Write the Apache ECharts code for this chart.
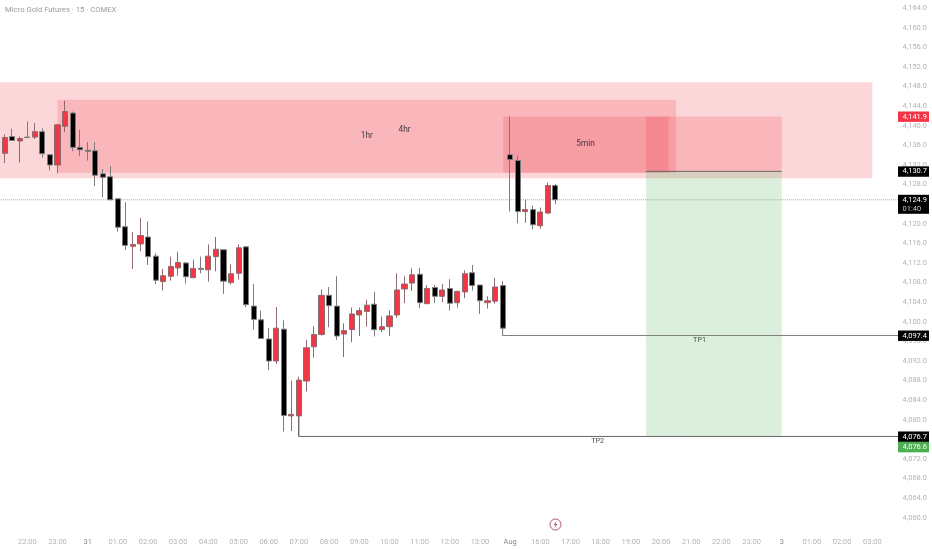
<!DOCTYPE html>
<html>
<head>
<meta charset="utf-8">
<style>html,body{margin:0;padding:0;background:#fff;overflow:hidden;width:932px;height:550px}#c{position:absolute;left:-3px;top:0;width:935px;height:550px}</style>
<script src="https://cdn.jsdelivr.net/npm/echarts@6/dist/echarts.min.js"></script>
</head>
<body>
<div id="c"></div>
<script>
const titleText = 'Micro Gold Futures · 15 · COMEX';
const timeLabels = ['22:00','23:00','31','01:00','02:00','03:00','04:00','05:00','06:00','07:00','08:00','09:00','10:00','11:00','12:00','13:00','Aug','16:00','17:00','18:00','19:00','20:00','21:00','22:00','23:00','3','01:00','02:00','03:00'];
const firstSlot = -3;
const opens = [4134.4,4137.8,4136.9,4137.7,4137.7,4138.8,4134.1,4132.0,4139.9,4142.6,4135.6,4135.0,4134.9,4130.2,4129.6,4125.1,4119.4,4115.4,4115.9,4117.3,4113.4,4108.2,4109.3,4111.0,4112.0,4109.0,4110.9,4110.6,4113.3,4114.7,4108.0,4109.9,4115.3,4103.2,4100.4,4096.5,4092.0,4098.5,4080.8,4080.8,4087.9,4094.9,4097.4,4105.4,4103.2,4097.5,4098.4,4101.4,4102.1,4103.6,4098.4,4099.0,4101.4,4106.7,4107.9,4109.7,4103.7,4107.0,4105.2,4106.8,4103.9,4106.1,4110.0,4107.5,4103.9,4104.2,4107.4,4134.1,4132.9,4122.5,4122.9,4119.6,4122.2,4127.8];
const closes = [4137.6,4137.0,4137.4,4137.6,4138.8,4134.3,4132.0,4140.2,4142.9,4135.6,4135.1,4134.8,4129.9,4129.5,4124.9,4119.3,4115.6,4115.8,4117.6,4113.3,4108.5,4109.4,4111.3,4112.1,4109.2,4110.9,4110.7,4113.4,4114.8,4108.3,4109.8,4115.1,4103.5,4100.5,4096.6,4092.0,4098.7,4080.9,4081.1,4088.1,4094.7,4097.4,4105.4,4103.3,4097.1,4098.2,4101.6,4102.3,4103.4,4098.4,4099.0,4101.2,4106.5,4107.7,4109.6,4103.9,4106.8,4105.2,4106.5,4103.8,4106.2,4109.8,4107.4,4104.3,4104.3,4107.1,4098.7,4133.1,4122.5,4122.9,4119.8,4122.4,4127.8,4124.9];
const lows = [4132.4,4137.0,4132.5,4137.5,4137.3,4133.5,4130.9,4130.3,4138.7,4134.8,4133.8,4132.9,4127.7,4125.4,4124.9,4118.4,4114.7,4110.8,4114.4,4111.6,4107.7,4106.4,4108.4,4109.4,4107.8,4108.9,4109.9,4108.2,4110.3,4105.7,4107.6,4108.6,4103.0,4098.4,4096.5,4090.1,4091.4,4077.6,4077.7,4076.6,4085.8,4092.7,4097.2,4098.9,4096.3,4092.8,4095.8,4097.1,4099.0,4097.0,4097.9,4097.1,4100.8,4103.8,4106.3,4102.8,4103.6,4103.8,4104.0,4102.3,4102.9,4104.8,4106.4,4101.6,4102.7,4103.7,4097.2,4122.5,4120.1,4120.2,4118.9,4119.0,4122.0,4124.0];
const highs = [4138.2,4139.4,4137.8,4140.9,4140.6,4139.5,4134.1,4140.4,4145.1,4142.9,4139.2,4136.7,4136.7,4131.2,4131.8,4125.1,4124.4,4118.3,4121.2,4120.5,4114.0,4110.8,4113.3,4114.3,4112.2,4112.7,4113.3,4115.8,4117.3,4114.7,4111.7,4115.8,4115.4,4107.7,4102.3,4098.7,4103.0,4100.3,4088.0,4088.8,4096.3,4099.1,4106.6,4107.1,4109.3,4099.7,4102.9,4102.9,4104.5,4106.1,4101.1,4102.3,4109.9,4109.3,4110.9,4111.0,4107.5,4107.5,4107.7,4108.7,4106.4,4110.5,4111.6,4107.5,4105.2,4109.0,4108.3,4141.9,4133.9,4124.9,4123.7,4123.3,4128.4,4128.1];
const zoneNames = ['1hr','4hr','5min','short risk','short reward'];
const zoneFrom = [-4,4,63.1,82,82];
const zoneTo = [112,86,85,100,100];
const zoneHigh = [4148.9,4145.3,4141.9,4141.9,4130.7];
const zoneLow = [4129.3,4130.4,4130.4,4130.7,4076.6];
const tp1Path = [[63,4098.7],[63,4097.2],[115.6,4097.2]];
const tp2Path = [[36,4080.8],[36,4076.6],[115.6,4076.6]];
const entryPath = [[82,4130.7],[100,4130.7]];
const lastPricePath = [[-4,4124.9],[115.6,4124.9]];
const noteTexts = ['1hr','4hr','5min','TP1','TP2'];
const noteX = [45,50,74,89.1,75.6];
const noteY = [4138.0,4139.2,4136.3,4096.2,4075.6];
const tagTexts = ['4,141.9','4,130.7','4,124.9','4,097.4','4,076.7','4,076.6'];
const tagPrices = [4141.9,4130.7,4124.9,4097.2,4076.6,4076.6];

const FONT = 'Roboto';
const RED = '#f23645', GREEN = '#4caf50';
const zoneColors = ['rgba(242,54,69,.2)','rgba(242,54,69,.2)','rgba(242,54,69,.2)','rgba(242,54,69,.2)','rgba(76,175,80,.2)'];
const tagColors = [RED,'#000','#000','#000','#000',GREEN];

const candleData = opens.map((o,i)=>[firstSlot+i,o,closes[i],lows[i],highs[i]]);
const zoneData = zoneNames.map((n,i)=>[zoneFrom[i],zoneTo[i],zoneHigh[i],zoneLow[i]]);
function linePath(data,color,type,z){
  return {type:'line',data,showSymbol:false,silent:true,animation:false,z,clip:true,
    lineStyle:{color,width:1,type:type||'solid'}};
}
const chart = echarts.init(document.getElementById('c'),null,{renderer:'canvas'});
chart.setOption({
  animation:false,
  backgroundColor:'#fff',
  title:{text:titleText,left:8,top:6,padding:0,textStyle:{fontFamily:FONT,fontSize:7.7,fontWeight:'normal',color:'#9a9a9a'}},
  grid:{left:0.12,top:8.2,width:905.38,height:509.6,containLabel:false},
  xAxis:{type:'value',min:-4,max:116,interval:4,
    axisLine:{show:false},axisTick:{show:false},splitLine:{show:false},
    axisLabel:{show:true,margin:20,fontFamily:FONT,fontSize:7.5,color:'#b4b4b4',showMinLabel:false,showMaxLabel:false,
      formatter:v=>{const s=timeLabels[v/4];if(s===undefined)return '';return /:/.test(s)?s:'{b|'+s+'}';},
      rich:{b:{fontFamily:FONT,fontSize:7.5,color:'#8a8a8a'}}}},
  yAxis:{type:'value',position:'right',min:4060,max:4164,interval:4,scale:true,
    axisLine:{show:false},axisTick:{show:false},splitLine:{show:false},
    axisLabel:{margin:0,fontFamily:FONT,fontSize:7.5,color:'#b4b4b4',
      formatter:v=>v.toLocaleString('en-US',{minimumFractionDigits:1,maximumFractionDigits:1})}},
  series:[
    {type:'custom',z:1,silent:true,clip:true,data:zoneData,encode:{x:[0,1],y:[2,3]},
      renderItem(p,api){
        const a=api.coord([api.value(0),api.value(2)]),b=api.coord([api.value(1),api.value(3)]);
        return {type:'rect',shape:{x:a[0],y:a[1],width:b[0]-a[0],height:b[1]-a[1]},
          style:{fill:zoneColors[p.dataIndex]}};
      }},
    linePath(lastPricePath,'#a6a6a6','dotted',2),
    {type:'candlestick',z:3,silent:true,barWidth:5.6,data:candleData,encode:{x:0,y:[1,2,3,4]},
      itemStyle:{color:RED,color0:'#000',borderColor:'#8f6a6e',borderColor0:'#7c7c7c',borderWidth:1}},
    linePath(tp1Path,'#808080','solid',4),
    linePath(tp2Path,'#666','solid',4),
    linePath(entryPath,'#666','solid',4),
    {type:'scatter',z:5,silent:true,symbolSize:0,
      data:noteTexts.map((t,i)=>({value:[noteX[i],noteY[i]],name:t,label:/TP/.test(t)?{fontSize:7.2}:{fontSize:8.3}})),
      label:{show:true,position:'inside',formatter:'{b}',fontFamily:FONT,color:'#131722'}},
    {type:'custom',z:6,silent:true,clip:false,
      data:tagTexts.map((t,i)=>[116,tagPrices[i]]),encode:{y:1},
      renderItem(p,api){
        const i=p.dataIndex,c=api.coord([116,api.value(1)]);
        const x=c[0]-4.5,yc=c[1]+(i===5?10.5:0);
        const two=i===2;
        const kids=[{type:'rect',shape:{x,y:yc-5,width:31,height:two?19:10.4},style:{fill:tagColors[i]}},
          {type:'text',style:{x:x+4.5,y:yc+.2,text:tagTexts[i],fill:'#fff',font:'7.5px '+FONT,textVerticalAlign:'middle'}}];
        if(two)kids.push({type:'text',style:{x:x+4.5,y:yc+9.3,text:'01:40',fill:'#c8c8c8',font:'7.5px '+FONT,textVerticalAlign:'middle'}});
        return {type:'group',children:kids};
      }}
  ],
  graphic:[
    {type:'circle',shape:{cx:558.5,cy:524.5,r:5.5},style:{fill:'#fff',stroke:'#a8566a',lineWidth:1},silent:true},
    {type:'polygon',shape:{points:[[559.6,521],[556.6,525],[558.3,525],[557.4,528],[560.4,524],[558.7,524]]},style:{fill:'#a8566a'},silent:true}
  ]
});
</script>
</body>
</html>
